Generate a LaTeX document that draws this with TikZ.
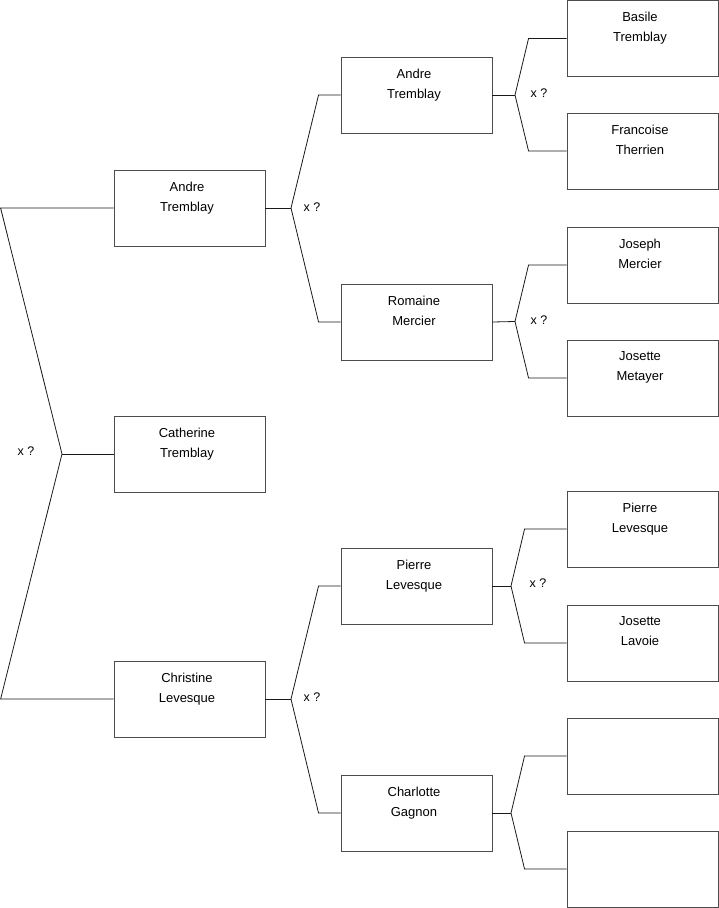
\documentclass[tikz,border=0pt]{standalone}
\usepackage{fontspec}
\setmainfont{Liberation Sans}
\begin{document}
\begin{tikzpicture}[x=1pt,y=-1pt,
  person/.style={draw=black!70,line width=0.9pt,minimum width=151pt,minimum height=76pt,inner sep=0pt,fill=white},
  nametxt/.style={anchor=north,inner sep=0pt,align=center,font=\fontsize{13}{20}\selectfont},
  link/.style={draw=black!90,line width=0.8pt},
  qmark/.style={inner sep=0pt,font=\fontsize{12.5}{14}\selectfont}]
\useasboundingbox (0,0) rectangle (719,908);

% level 1
\node[person] (a1) at (189.5,208) {};
\node[person] (c1) at (189.5,454) {};
\node[person] (h1) at (189.5,699) {};
% level 2
\node[person] (a2) at (416.5,95) {};
\node[person] (r2) at (416.5,322) {};
\node[person] (p2) at (416.5,586) {};
\node[person] (g2) at (416.5,813) {};
% level 3
\node[person] (b3) at (642.5,38.5) {};
\node[person] (f3) at (642.5,151) {};
\node[person] (j3) at (642.5,265) {};
\node[person] (m3) at (642.5,378) {};
\node[person] (p3) at (642.5,529) {};
\node[person] (l3) at (642.5,643) {};
\node[person] (e3) at (642.5,756) {};
\node[person] (k3) at (642.5,869) {};

% names
\tikzset{nameat/.style={}}
\node[nametxt] (ta1) at ([xshift=-2.5pt,yshift=-12pt]a1.north) {Andre\\Tremblay};
\node[nametxt] (tc1) at ([xshift=-2.5pt,yshift=-12pt]c1.north) {Catherine\\Tremblay};
\node[nametxt] (th1) at ([xshift=-2.5pt,yshift=-12pt]h1.north) {Christine\\Levesque};
\node[nametxt] (ta2) at ([xshift=-2.5pt,yshift=-12pt]a2.north) {Andre\\Tremblay};
\node[nametxt] (tr2) at ([xshift=-2.5pt,yshift=-12pt]r2.north) {Romaine\\Mercier};
\node[nametxt] (tp2) at ([xshift=-2.5pt,yshift=-12pt]p2.north) {Pierre\\Levesque};
\node[nametxt] (tg2) at ([xshift=-2.5pt,yshift=-12pt]g2.north) {Charlotte\\Gagnon};
\node[nametxt] (tb3) at ([xshift=-2.5pt,yshift=-12pt]b3.north) {Basile\\Tremblay};
\node[nametxt] (tf3) at ([xshift=-2.5pt,yshift=-12pt]f3.north) {Francoise\\Therrien};
\node[nametxt] (tj3) at ([xshift=-2.5pt,yshift=-12pt]j3.north) {Joseph\\Mercier};
\node[nametxt] (tm3) at ([xshift=-2.5pt,yshift=-12pt]m3.north) {Josette\\Metayer};
\node[nametxt] (tp3) at ([xshift=-2.5pt,yshift=-12pt]p3.north) {Pierre\\Levesque};
\node[nametxt] (tl3) at ([xshift=-2.5pt,yshift=-12pt]l3.north) {Josette\\Lavoie};

% fork points
\coordinate (r0t) at (0.6,208);
\coordinate (r0b) at (0.6,699);
\coordinate (f0) at (62,454);
\coordinate (f1) at (291,208);
\coordinate (fh) at (291,699);
\coordinate (fa) at (515,95);
\coordinate (fr) at (515,321.5);
\coordinate (fp) at (511,586);
\coordinate (fg) at (511,813);

% main fork
\draw[link] (a1.west) -- (r0t) -- (f0) -- (r0b) -- (h1.west);
\draw[link] (f0) -- (c1.west);
% level 1 -> 2
\draw[link] (a1.east) -- (f1);
\draw[link] (a2.west) -- ++(-22,0) -- (f1) -- ([xshift=-22pt]r2.west) -- (r2.west);
\draw[link] (h1.east) -- (fh);
\draw[link] (p2.west) -- ++(-22,0) -- (fh) -- ([xshift=-22pt]g2.west) -- (g2.west);
% level 2 -> 3
\draw[link] (a2.east) -- (fa);
\draw[link] (b3.west) -- ++(-38,0) -- (fa) -- ([xshift=-38pt]f3.west) -- (f3.west);
\draw[link] (r2.east) -- (fr);
\draw[link] (j3.west) -- ++(-38,0) -- (fr) -- ([xshift=-38pt]m3.west) -- (m3.west);
\draw[link] (p2.east) -- (fp);
\draw[link] (p3.west) -- ++(-42,0) -- (fp) -- ([xshift=-42pt]l3.west) -- (l3.west);
\draw[link] (g2.east) -- (fg);
\draw[link] (e3.west) -- ++(-42,0) -- (fg) -- ([xshift=-42pt]k3.west) -- (k3.west);

% x ? labels
\node[qmark] (q0) at (26,451) {x ?};
\node[qmark] (q1) at (312,207) {x ?};
\node[qmark] (q2) at (312,697) {x ?};
\node[qmark] (q3) at (539,93) {x ?};
\node[qmark] (q4) at (539,320) {x ?};
\node[qmark] (q5) at (538,583) {x ?};
\end{tikzpicture}
\end{document}
